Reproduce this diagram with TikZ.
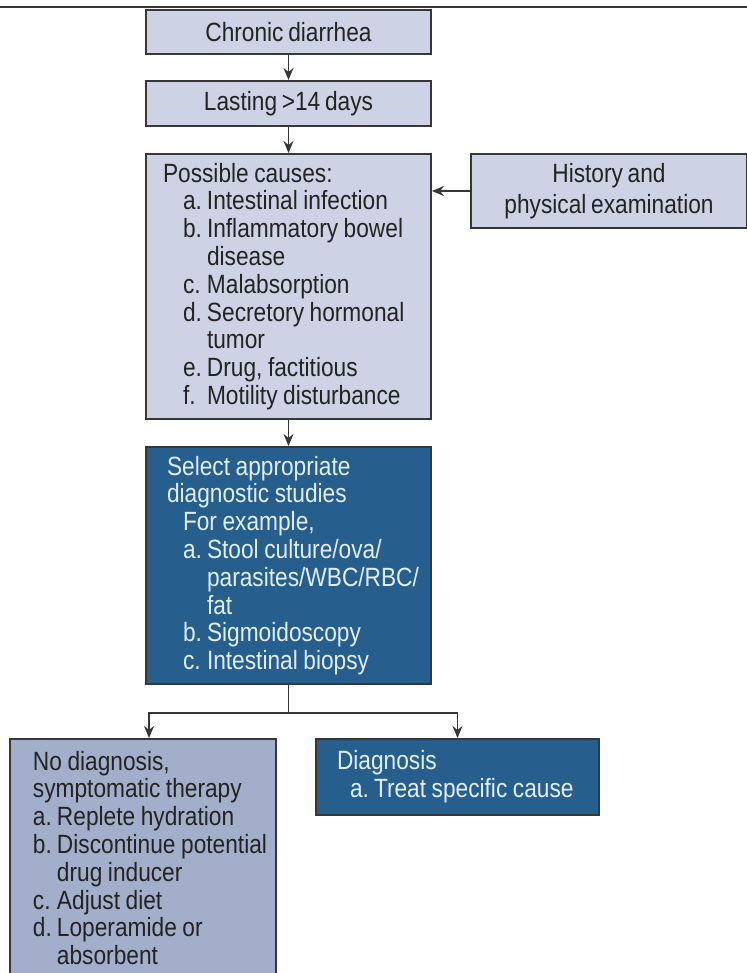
\documentclass[tikz,border=0pt]{standalone}
\usepackage{fontspec}
\setmainfont{Liberation Sans}[FakeStretch=0.86, WordSpace=0.75]
\usepackage{tikz}
\usetikzlibrary{arrows.meta}
\frenchspacing

\definecolor{boxlight}{RGB}{205,211,228}
\definecolor{boxmid}{RGB}{162,174,202}
\definecolor{boxdark}{RGB}{38,94,142}
\definecolor{edgegray}{RGB}{55,55,55}
\definecolor{txtlight}{RGB}{226,238,248}
\definecolor{txtdark}{RGB}{35,35,35}

% list label of fixed width, and left padding for list boxes
\newcommand{\lbl}[2][12pt]{\makebox[#1][l]{#2}}
\newcommand{\boxpad}[1]{\raggedright\parindent=0pt\leftskip=#1\relax\spaceskip=0.21em\relax}

\tikzset{
    flowbox/.style={draw=edgegray, line width=1pt, anchor=north west, inner sep=0pt,
        font=\fontsize{13.2}{13.9}\selectfont},
    lightbox/.style={flowbox, fill=boxlight, text=txtdark},
    midbox/.style={flowbox, fill=boxmid, text=txtdark},
    darkbox/.style={flowbox, fill=boxdark, text=txtlight},
    flowarrow/.style={-{Stealth[length=6pt,width=5pt]}, line width=0.8pt, draw=edgegray},
    flowline/.style={line width=0.8pt, draw=edgegray},
}

\begin{document}
\begin{tikzpicture}[x=0.5pt,y=-0.5pt]
\path[fill=white, use as bounding box] (0,0) rectangle (747,973);

% top rule
\draw[line width=1pt, draw=edgegray] (0,7) -- (747,7);

% Entry
\node[lightbox, minimum width=142.5pt, minimum height=22pt, align=center] (chronic) at (145,9) {Chronic diarrhea};
\node[lightbox, minimum width=142.5pt, minimum height=22.5pt, align=center] (lasting) at (145,80) {Lasting >14 days};

% Causes and history
\node[lightbox, text width=142.5pt, minimum height=132.5pt] (causes) at (145,153) {\boxpad{8.5pt}%
    Possible causes:\\
    \hspace*{10pt}\lbl{a.}Intestinal infection\\
    \hspace*{10pt}\lbl{b.}Inflammatory bowel\\
    \hspace*{22pt}disease\\
    \hspace*{10pt}\lbl{c.}Malabsorption\\
    \hspace*{10pt}\lbl{d.}Secretory hormonal\\
    \hspace*{22pt}tumor\\
    \hspace*{10pt}\lbl{e.}Drug, factitious\\
    \hspace*{10pt}\lbl{f.}Motility disturbance\par};
\node[lightbox, minimum width=138pt, minimum height=37pt, align=center,
    font=\fontsize{13.2}{15.5}\selectfont] (history) at (470,153) {History and\\physical examination};

% Diagnostic studies
\node[darkbox, text width=142.5pt, minimum height=118.5pt] (studies) at (145,446) {\boxpad{10.5pt}%
    Select appropriate\\
    diagnostic studies\\
    \hspace*{8pt}For example,\\
    \hspace*{8pt}\lbl{a.}Stool culture/ova/\\
    \hspace*{20pt}parasites/WBC/RBC/\\
    \hspace*{20pt}fat\\
    \hspace*{8pt}\lbl{b.}Sigmoidoscopy\\
    \hspace*{8pt}\lbl{c.}Intestinal biopsy\par};

% Outcomes
\node[midbox, text width=133pt, minimum height=119pt] (nodiag) at (9,738) {\boxpad{11.5pt}%
    No diagnosis,\\
    symptomatic therapy\\
    \lbl{a.}Replete hydration\\
    \lbl{b.}Discontinue potential\\
    \hspace*{12pt}drug inducer\\
    \lbl{c.}Adjust diet\\
    \lbl{d.}Loperamide or\\
    \hspace*{12pt}absorbent\par};
\node[darkbox, text width=141.5pt, minimum height=38pt] (diag) at (315,738) {\boxpad{10.5pt}%
    Diagnosis\\
    \hspace*{6.5pt}\lbl{a.}Treat specific cause\par};

% Arrows
\draw[flowarrow] (chronic.south) -- (lasting.north);
\draw[flowarrow] (lasting.south) -- (causes.north);
\draw[flowarrow] (history.west) -- (history.west -| causes.east);
\draw[flowarrow] (causes.south) -- (studies.north);
\draw[flowline] (studies.south) -- ++(0,28) coordinate (split);
\draw[flowarrow] (split) -| ([xshift=3pt]nodiag.north);
\draw[flowarrow] (split) -| (diag.north);
\end{tikzpicture}
\end{document}
